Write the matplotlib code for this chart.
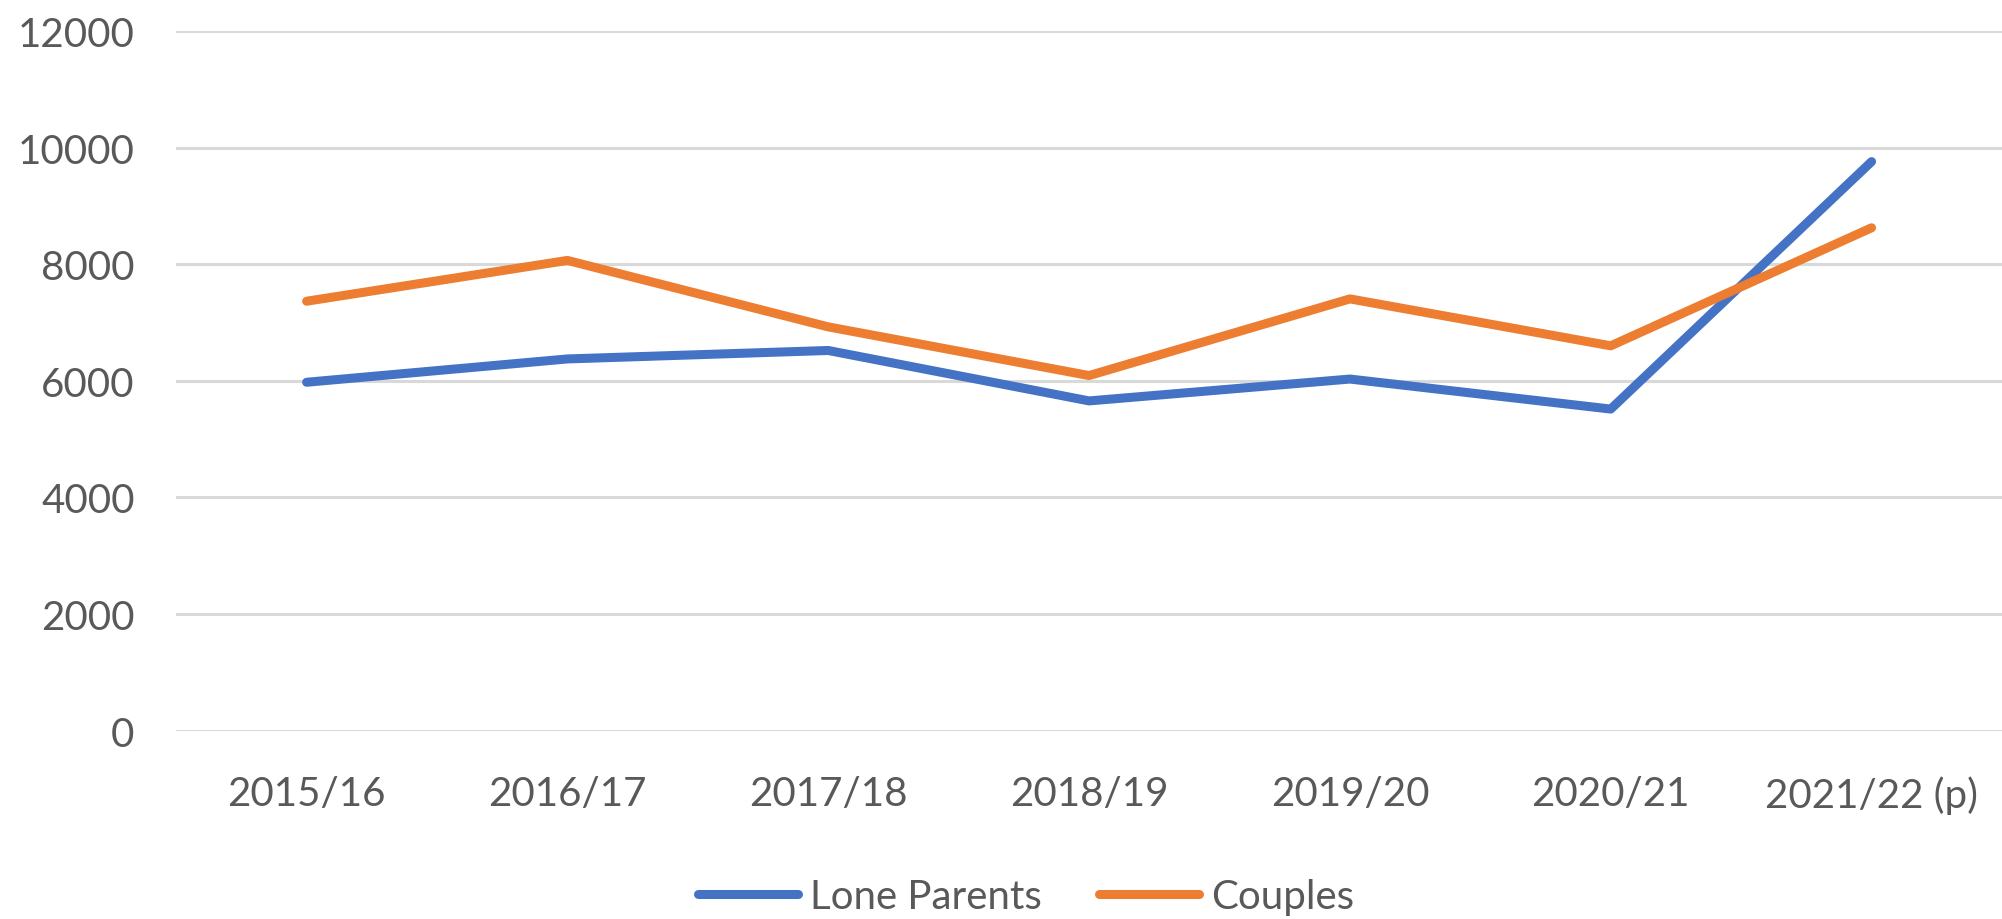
import matplotlib
matplotlib.use("Agg")
import matplotlib.pyplot as plt

categories = ["2015/16", "2016/17", "2017/18", "2018/19", "2019/20", "2020/21", "2021/22 (p)"]
lone_parents = [5975, 6375, 6520, 5655, 6030, 5515, 9760]
couples = [7365, 8065, 6925, 6090, 7405, 6600, 8625]
yticks = [0, 2000, 4000, 6000, 8000, 10000, 12000]

plt.rcParams['font.family'] = ['Lato', 'DejaVu Sans']
text_color = "#595959"
fs = 29

fig = plt.figure(figsize=(20.02, 9.2), dpi=100)
ax = fig.add_axes([0.088, 0.2048, 0.912, 0.7604])

x = list(range(len(categories)))
ax.plot(x, lone_parents, color="#4472C4", lw=6.5, solid_capstyle="round",
        solid_joinstyle="round", label="Lone Parents", zorder=3)
ax.plot(x, couples, color="#ED7D31", lw=6.5, solid_capstyle="round",
        solid_joinstyle="round", label="Couples", zorder=3)

ax.set_xlim(-0.5, len(categories) - 0.5)
ax.set_ylim(0, 12000)
ax.set_yticks(yticks)
ax.set_yticklabels([str(v) for v in yticks])
ax.set_xticks(x)
ax.set_xticklabels(categories)

ax.grid(axis="y", color="#d9d9d9", lw=2.2, zorder=0)
ax.set_axisbelow(True)
for s in ax.spines.values():
    s.set_visible(False)
ax.tick_params(axis="both", length=0, labelsize=fs, colors=text_color)
ax.tick_params(axis="y", pad=30)
ax.tick_params(axis="x", pad=32)

leg = fig.legend(loc="center", bbox_to_anchor=(0.5125, 0.024), ncol=2,
                 frameon=False, fontsize=fs, handlelength=2.5,
                 handletextpad=0.3, columnspacing=1.4, labelcolor=text_color)
for line in leg.get_lines():
    line.set_linewidth(6.5)
    line.set_solid_capstyle("round")

fig.savefig("out.png", dpi=100)
